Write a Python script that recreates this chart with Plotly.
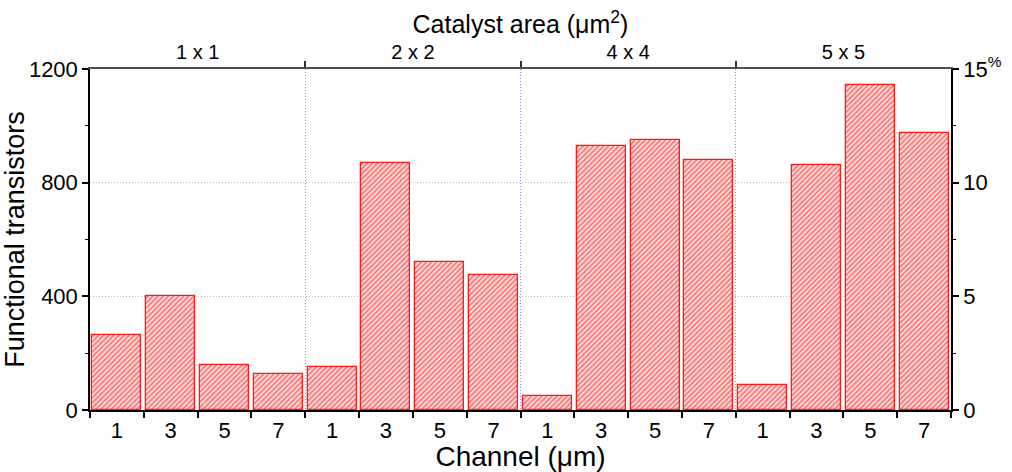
import plotly.graph_objects as go

# Data
groups = ["1 x 1", "2 x 2", "4 x 4", "5 x 5"]
channels = ["1", "3", "5", "7"]
values = [265, 400, 157, 126,
          150, 870, 520, 475,
          50, 930, 950, 880,
          88, 862, 1145, 975]
left_ticks = [0, 400, 800, 1200]
right_ticks = [0, 5, 10, 15]
right_tick_labels = ["0", "5", "10", "15<sup>%</sup>"]

n = len(values)
xpos = [i + 0.5 for i in range(n)]
tick_text = channels * len(groups)
boundaries = list(range(n + 1))
group_centers = [2 + 4 * i for i in range(len(groups))]
group_bounds = [4, 8, 12]

FONT = "Liberation Sans, Arial, sans-serif"
RED = "#ff1a1a"

fig = go.Figure()
fig.add_trace(go.Bar(
    x=xpos, y=values, width=0.91,
    marker=dict(color="white", line=dict(color=RED, width=1.3),
                pattern=dict(shape="/", fgcolor="#ff0000", bgcolor="white",
                             size=3.6, solidity=0.65)),
    hoverinfo="skip", showlegend=False,
))
# helper invisible traces so overlay axes render
fig.add_trace(go.Scatter(x=[0, n], y=[0, 0], xaxis="x2", yaxis="y",
                         mode="lines", line=dict(width=0), opacity=0,
                         showlegend=False, hoverinfo="skip"))
fig.add_trace(go.Scatter(x=[0, n], y=[0, 0], xaxis="x", yaxis="y2",
                         mode="lines", line=dict(width=0), opacity=0,
                         showlegend=False, hoverinfo="skip"))

fig.update_layout(
    width=1012, height=472,
    margin=dict(l=90, r=61, t=69, b=62),
    plot_bgcolor="white", paper_bgcolor="white",
    font=dict(family=FONT, size=21, color="black"),
    bargap=0,
    xaxis=dict(
        range=[0, n], tickmode="array", tickvals=xpos, ticktext=tick_text,
        ticks="", showgrid=False, zeroline=False, automargin=False,
        showline=True, linecolor="black", linewidth=1.5,
        tickfont=dict(family=FONT, size=22),
        minor=dict(tickmode="array", tickvals=boundaries, ticks="outside",
                   ticklen=6, tickwidth=1.5, tickcolor="black", showgrid=False),
        title=dict(text="Channel (μm)", font=dict(family=FONT, size=28), standoff=2),
    ),
    xaxis2=dict(
        range=[0, n], overlaying="x", side="top", anchor="y", automargin=False,
        tickmode="array", tickvals=group_centers, ticktext=groups,
        ticks="", showgrid=False, zeroline=False,
        showline=True, linecolor="#505050", linewidth=2.2,
        tickfont=dict(family=FONT, size=20),
        minor=dict(tickmode="array", tickvals=group_bounds, ticks="outside",
                   ticklen=6, tickwidth=1.5, tickcolor="#303030",
                   showgrid=True, gridcolor="#8c8cff", griddash="1px,2px", gridwidth=1),
        title=dict(text="Catalyst area (μm<sup>2</sup>)", font=dict(family=FONT, size=25), standoff=0),
    ),
    yaxis=dict(
        range=[0, 1200], tickmode="array", tickvals=left_ticks, automargin=False,
        ticks="outside", ticklen=6, tickwidth=1.5, tickcolor="black",
        showline=True, linecolor="black", linewidth=1.5,
        showgrid=True, gridcolor="#b8b8b8", griddash="1px,2px", gridwidth=1,
        zeroline=False, tickfont=dict(family=FONT, size=22),
        minor=dict(tickmode="array", tickvals=[200, 600, 1000], ticks="outside",
                   ticklen=3, tickwidth=1.2, tickcolor="black", showgrid=False),
        title=dict(text="Functional transistors", font=dict(family=FONT, size=27), standoff=2),
    ),
    yaxis2=dict(
        range=[0, 15], overlaying="y", side="right", anchor="x", automargin=False,
        tickmode="array", tickvals=right_ticks, ticktext=right_tick_labels,
        ticks="outside", ticklen=6, tickwidth=1.5, tickcolor="black",
        showline=True, linecolor="black", linewidth=1.5,
        showgrid=False, zeroline=False, tickfont=dict(family=FONT, size=22),
        minor=dict(tickmode="array", tickvals=[2.5, 7.5, 12.5], ticks="outside",
                   ticklen=3, tickwidth=1.2, tickcolor="black", showgrid=False),
    ),
)

fig.write_html("out.html")
